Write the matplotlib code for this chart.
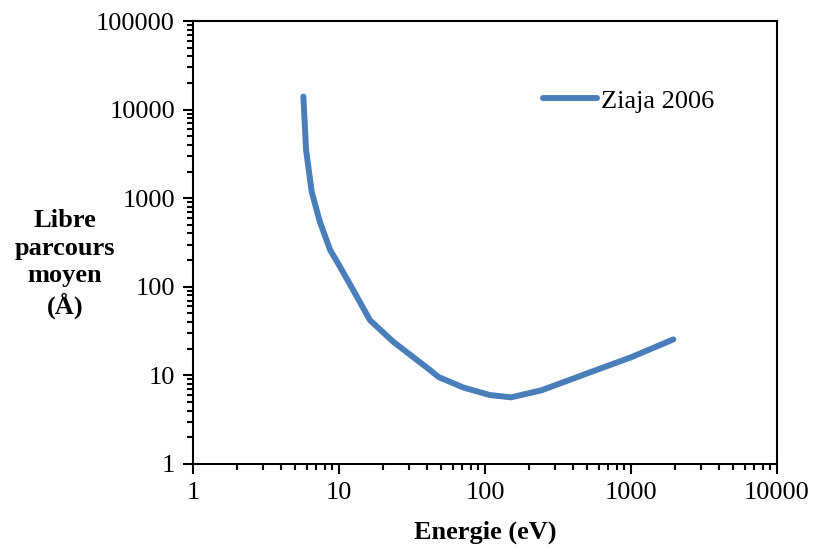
import numpy as np
import matplotlib.pyplot as plt
from matplotlib.ticker import LogLocator, FixedLocator, NullFormatter

# values (energy in eV, mean free path in Angstrom)
energie = [5.7, 5.95, 6.5, 7.4, 8.7, 10, 12.5, 16.3, 23.5, 42, 48, 71, 108, 151, 244, 538, 1000, 1950]
libre_parcours = [14000, 3500, 1180, 540, 260, 176, 92, 42, 24, 11.5, 9.6, 7.3, 6.0, 5.65, 6.8, 11.0, 16.0, 25.5]

xticks = [1, 10, 100, 1000, 10000]
yticks = [1, 10, 100, 1000, 10000, 100000]

plt.rcParams['font.family'] = ['Liberation Serif', 'DejaVu Serif']
plt.rcParams['font.size'] = 19

fig = plt.figure(figsize=(8.13, 5.49), dpi=100)
ax = fig.add_axes([193 / 813, 1 - 464 / 549, (777 - 193) / 813, (464 - 21) / 549])

ax.plot(energie, libre_parcours, color='#4A7EBB', lw=4.3, solid_capstyle='round',
        label='Ziaja 2006')

ax.set_xscale('log')
ax.set_yscale('log')
ax.set_xlim(1, 10000)
ax.set_ylim(1, 100000)
ax.xaxis.set_major_locator(FixedLocator(xticks))
ax.yaxis.set_major_locator(FixedLocator(yticks))
ax.set_xticklabels([str(v) for v in xticks])
ax.set_yticklabels([str(v) for v in yticks])
ax.xaxis.set_minor_locator(LogLocator(base=10, subs=np.arange(2, 10), numticks=20))
ax.yaxis.set_minor_locator(LogLocator(base=10, subs=np.arange(2, 10), numticks=20))
ax.xaxis.set_minor_formatter(NullFormatter())
ax.yaxis.set_minor_formatter(NullFormatter())

ax.tick_params(which='major', direction='out', length=7, width=1.5, pad=6)
ax.tick_params(which='minor', direction='out', length=4, width=1.5)
for s in ax.spines.values():
    s.set_linewidth(1.5)

ax.set_xlabel('Energie (eV)', fontweight='bold', labelpad=12)
fig.text(65 / 813, 1 - 264 / 549, 'Libre\nparcours\nmoyen\n(Å)', ha='center', va='center',
         fontweight='bold', linespacing=1.25)

ax.legend(loc='center left', bbox_to_anchor=((543 - 193) / 584, (464 - 101) / 443),
          frameon=False, handlelength=2.05, handletextpad=0.15, borderpad=0,
          borderaxespad=0, fontsize=19)

fig.savefig('out.png', dpi=100)
